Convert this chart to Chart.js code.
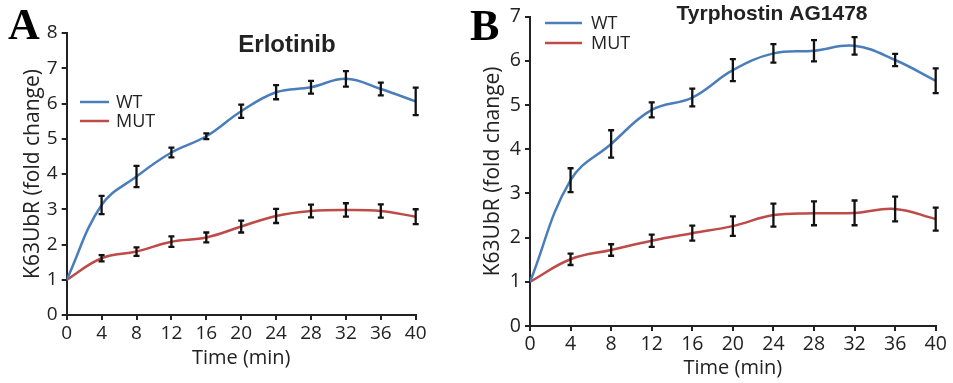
<!DOCTYPE html>
<html>
<head>
<meta charset="utf-8">
<script src="https://cdn.jsdelivr.net/npm/chart.js@4.4.1/dist/chart.umd.min.js"></script>
<style>
body{margin:0;background:#fff;}
#wrap{position:relative;width:953px;height:383px;overflow:hidden;}
#chartA{position:absolute;left:0;top:0;}
#chartB{position:absolute;left:470px;top:0;}
</style>
</head>
<body>
<div id="wrap">
<canvas id="chartA" width="470" height="383"></canvas>
<canvas id="chartB" width="483" height="383"></canvas>
</div>
<script>
//__________ data __________//
const times = [0, 4, 8, 12, 16, 20, 24, 28, 32, 36, 40];
const seriesNames = ['WT', 'MUT'];
const seriesColors = ['#4A7EBB', '#BE4B48'];

// Erlotinib
const erlWT     = [1.00, 3.12, 3.93, 4.61, 5.07, 5.78, 6.32, 6.46, 6.70, 6.41, 6.06];
const erlWTErr  = [0, 0.26, 0.30, 0.14, 0.08, 0.19, 0.20, 0.18, 0.22, 0.18, 0.39];
const erlMUT    = [1.00, 1.61, 1.80, 2.08, 2.20, 2.51, 2.81, 2.95, 2.98, 2.95, 2.79];
const erlMUTErr = [0, 0.09, 0.12, 0.15, 0.14, 0.17, 0.20, 0.18, 0.19, 0.19, 0.21];

// Tyrphostin AG1478
const tyrWT     = [1.00, 3.30, 4.12, 4.89, 5.17, 5.79, 6.17, 6.23, 6.34, 6.02, 5.55];
const tyrWTErr  = [0, 0.27, 0.31, 0.17, 0.20, 0.25, 0.21, 0.24, 0.20, 0.14, 0.28];
const tyrMUT    = [1.00, 1.51, 1.72, 1.93, 2.10, 2.26, 2.51, 2.55, 2.56, 2.65, 2.42];
const tyrMUTErr = [0, 0.13, 0.13, 0.14, 0.17, 0.22, 0.26, 0.27, 0.28, 0.28, 0.26];

const yMaxA = 8;
const yMaxB = 7;

Chart.defaults.font.family = "'Open Sans', sans-serif";
Chart.defaults.color = '#222';

//__________ error bars __________//
const errorBars = {
    id: 'errorBars',
    afterDatasetsDraw(chart){
        const ctx = chart.ctx;
        const xs = chart.scales.x, ys = chart.scales.y;
        ctx.save();
        ctx.strokeStyle = '#111';
        ctx.lineWidth = 2.3;
        chart.data.datasets.forEach(function(ds){
            ds.data.forEach(function(p, i){
                const e = ds.errors[i];
                if(!e) return;
                const px = xs.getPixelForValue(p.x);
                const y1 = ys.getPixelForValue(p.y - e);
                const y2 = ys.getPixelForValue(p.y + e);
                ctx.beginPath();
                ctx.moveTo(px, y1); ctx.lineTo(px, y2);
                ctx.moveTo(px - 3, y1); ctx.lineTo(px + 3, y1);
                ctx.moveTo(px - 3, y2); ctx.lineTo(px + 3, y2);
                ctx.stroke();
            });
        });
        ctx.restore();
    }
};

//__________ panel letter, title, legend __________//
const deco = {
    id: 'deco',
    afterDraw(chart, args, o){
        const ctx = chart.ctx;
        ctx.save();
        // panel letter
        ctx.fillStyle = '#000';
        ctx.font = "bold 44px 'Liberation Serif', serif";
        ctx.textBaseline = 'alphabetic';
        ctx.textAlign = 'left';
        ctx.fillText(o.letter, o.letterX, o.letterY);
        // title
        ctx.fillStyle = '#222';
        ctx.font = 'bold ' + o.titleSize + "px 'Liberation Sans', Arial, sans-serif";
        ctx.textAlign = 'center';
        ctx.textBaseline = 'middle';
        ctx.fillText(o.title, o.titleX, o.titleY);
        // legend
        ctx.font = "18px 'Open Sans', sans-serif";
        ctx.textAlign = 'left';
        chart.data.datasets.forEach(function(ds, i){
            const y = o.legendY + i * o.legendGap;
            ctx.strokeStyle = ds.borderColor;
            ctx.lineWidth = 2.5;
            ctx.beginPath();
            ctx.moveTo(o.legendX1, y);
            ctx.lineTo(o.legendX2, y);
            ctx.stroke();
            ctx.fillStyle = '#222';
            ctx.fillText(ds.label, o.textX, y + 1);
        });
        ctx.restore();
    }
};

function makeChart(id, wt, wtErr, mut, mutErr, yMax, lay, decoOpts){
    const vals = [wt, mut];
    const errs = [wtErr, mutErr];
    const datasets = seriesNames.map(function(name, k){
        return {
            label: name,
            data: times.map(function(t, i){ return {x: t, y: vals[k][i]}; }),
            errors: errs[k],
            borderColor: seriesColors[k],
            borderWidth: 2.5,
            pointRadius: 0,
            tension: 0.4,
            fill: false
        };
    });
    return new Chart(document.getElementById(id), {
        type: 'line',
        data: {datasets: datasets},
        options: {
            responsive: false,
            animation: false,
            events: [],
            layout: {padding: {left: 0, top: lay.top, right: lay.right, bottom: 0}},
            plugins: {legend: {display: false}, tooltip: {enabled: false}, deco: decoOpts},
            scales: {
                x: {
                    type: 'linear', min: 0, max: 40,
                    afterBuildTicks: function(s){ s.ticks = times.map(function(v){ return {value: v}; }); },
                    afterFit: function(s){ s.height = lay.xH; },
                    grid: {display: true, drawOnChartArea: false, drawTicks: true, tickLength: 5, color: '#222', lineWidth: 2},
                    border: {display: true, color: '#222', width: 2},
                    ticks: {font: {size: lay.tick}, padding: 2, maxRotation: 0, autoSkip: false},
                    title: {display: true, text: 'Time (min)', font: {size: 20}, padding: {top: 0, bottom: lay.xPad}}
                },
                y: {
                    min: 0, max: yMax,
                    afterFit: function(s){ s.width = lay.yW; },
                    grid: {display: true, drawOnChartArea: false, drawTicks: true, tickLength: 5, color: '#222', lineWidth: 2},
                    border: {display: true, color: '#222', width: 2},
                    ticks: {stepSize: 1, font: {size: lay.tick}, padding: 4},
                    title: {display: true, text: 'K63UbR (fold change)', font: {size: 21}, padding: {top: lay.yPad, bottom: 0}}
                }
            }
        },
        plugins: [errorBars, deco]
    });
}

makeChart('chartA', erlWT, erlWTErr, erlMUT, erlMUTErr, yMaxA,
    {top: 33, right: 54.3, xH: 68, yW: 66.7, tick: 19, xPad: 13, yPad: 20.5},
    {letter: 'A', letterX: 8, letterY: 39, title: 'Erlotinib', titleX: 287, titleY: 45, titleSize: 24,
     legendX1: 80, legendX2: 109, legendY: 102, legendGap: 19, textX: 116});

makeChart('chartB', tyrWT, tyrWTErr, tyrMUT, tyrMUTErr, yMaxB,
    {top: 16.7, right: 17.3, xH: 57, yW: 60, tick: 19.5, xPad: 2.5, yPad: 10.5},
    {letter: 'B', letterX: 0, letterY: 40, title: 'Tyrphostin AG1478', titleX: 302, titleY: 14, titleSize: 21,
     legendX1: 75, legendX2: 112, legendY: 23, legendGap: 20, textX: 121});
</script>
</body>
</html>
